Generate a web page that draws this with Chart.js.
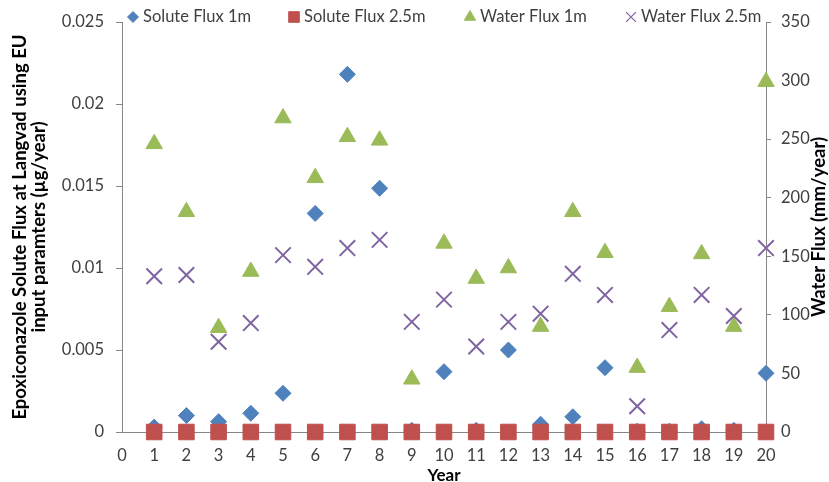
<!DOCTYPE html>
<html>
<head>
<meta charset="utf-8">
<script src="https://cdn.jsdelivr.net/npm/chart.js@4.4.1/dist/chart.umd.min.js"></script>
<style>
  html, body { margin: 0; padding: 0; background: #fff; }
  #wrap { width: 829px; height: 482px; position: relative; }
</style>
</head>
<body>
<div id="wrap"><canvas id="chart"></canvas></div>
<script>
const years = [1, 2, 3, 4, 5, 6, 7, 8, 9, 10, 11, 12, 13, 14, 15, 16, 17, 18, 19, 20];
const soluteFlux1m = [0.0003, 0.001, 0.00063, 0.00114, 0.00236, 0.01333, 0.02181, 0.01486, 0.0001, 0.00368,
  0.0001, 0.005, 0.00047, 0.00093, 0.00392, 0.00005, 0.00005, 0.0002, 0.0001, 0.00358];
const soluteFlux25m = [0, 0, 0, 0, 0, 0, 0, 0, 0, 0, 0, 0, 0, 0, 0, 0, 0, 0, 0, 0];
const waterFlux1m = [246, 188, 89, 137, 268, 217, 252, 249, 45, 161, 131, 140, 90, 188, 153, 55, 107, 152, 90, 299];
const waterFlux25m = [133, 134, 77, 93, 151, 141, 157, 164, 94, 113, 73, 94, 101, 135, 117, 22, 87, 117, 99, 157];
const seriesNames = ['Solute Flux 1m', 'Solute Flux 2.5m', 'Water Flux 1m', 'Water Flux 2.5m'];
const leftTitle = ['Epoxiconazole Solute Flux at Langvad using EU', 'input paramters (\u00b5g/year)'];
const rightTitle = 'Water Flux (mm/year)';

const toPoints = (vals) => vals.map((v, i) => ({ x: years[i], y: v }));
const textColor = '#404040';
const axisColor = '#868686';

// legend + right axis title drawn by hand so they sit where Excel put them
const extras = {
  id: 'extras',
  afterDraw(chart) {
    const ctx = chart.ctx;
    const legendX = [133, 294, 470, 631];
    const legendR = { rectRot: 5.5, rect: 7.5, triangle: 6.5, crossRot: 7 };
    ctx.save();
    ctx.font = '16.5px Lato';
    ctx.textBaseline = 'middle';
    chart.data.datasets.forEach((ds, i) => {
      ctx.fillStyle = ds.backgroundColor;
      ctx.strokeStyle = ds.borderColor;
      ctx.lineWidth = ds.pointStyle === 'crossRot' ? 1.2 : 1;
      Chart.helpers.drawPoint(ctx, {
        pointStyle: ds.pointStyle, radius: legendR[ds.pointStyle], rotation: 0, borderWidth: 1
      }, legendX[i], 17);
      ctx.fillStyle = textColor;
      ctx.textAlign = 'left';
      ctx.fillText(ds.label, legendX[i] + 10, 17);
    });
    const a = chart.chartArea;
    ctx.translate(819, (a.top + a.bottom) / 2);
    ctx.rotate(-Math.PI / 2);
    ctx.font = 'bold 18.5px Lato';
    ctx.fillStyle = '#000';
    ctx.textAlign = 'center';
    ctx.fillText(rightTitle, 0, 0);
    ctx.restore();
  }
};

new Chart(document.getElementById('chart'), {
  type: 'scatter',
  data: {
    datasets: [
      { label: seriesNames[0], data: toPoints(soluteFlux1m), yAxisID: 'y', order: 4,
        pointStyle: 'rectRot', pointRadius: 8, backgroundColor: '#4F81BD', borderColor: '#4F81BD', borderWidth: 1 },
      { label: seriesNames[1], data: toPoints(soluteFlux25m), yAxisID: 'y', order: 3,
        pointStyle: 'rect', pointRadius: 11, backgroundColor: '#C0504D', borderColor: '#C0504D', borderWidth: 1 },
      { label: seriesNames[2], data: toPoints(waterFlux1m), yAxisID: 'y2', order: 2,
        pointStyle: 'triangle', pointRadius: 9.5, backgroundColor: '#9BBB59', borderColor: '#9BBB59', borderWidth: 1 },
      { label: seriesNames[3], data: toPoints(waterFlux25m), yAxisID: 'y2', order: 1,
        pointStyle: 'crossRot', pointRadius: 11, backgroundColor: '#8064A2', borderColor: '#8064A2', borderWidth: 2 }
    ]
  },
  options: {
    responsive: true,
    maintainAspectRatio: false,
    animation: false,
    clip: false,
    layout: { padding: { top: 22 } },
    plugins: { legend: { display: false }, tooltip: { enabled: false } },
    scales: {
      x: {
        type: 'linear', min: 0, max: 20,
        afterFit: (s) => { s.height = 50; },
        grid: { display: false, drawTicks: false },
        border: { display: true, color: axisColor },
        ticks: { stepSize: 1, color: textColor, font: { family: 'Lato', size: 16.5 }, padding: 14 },
        title: { display: true, text: 'Year', color: '#000', font: { family: 'Lato', size: 17, weight: 'bold' },
          padding: { top: 0, bottom: -4 } }
      },
      y: {
        position: 'left', min: 0, max: 0.025,
        afterFit: (s) => { s.width = 122; },
        grid: { drawOnChartArea: false, drawTicks: true, tickLength: 6, color: axisColor },
        border: { display: true, color: axisColor },
        ticks: { stepSize: 0.005, color: textColor, font: { family: 'Lato', size: 16.5 }, padding: 12,
          callback: (v) => String(+v.toFixed(3)) },
        title: { display: true, text: leftTitle, color: '#000',
          font: { family: 'Lato', size: 18.5, weight: 'bold', lineHeight: 1.0 }, padding: { top: 11, bottom: 0 } }
      },
      y2: {
        position: 'right', min: 0, max: 350,
        afterFit: (s) => { s.width = 63; },
        grid: { drawOnChartArea: false, drawTicks: true, tickLength: 5, color: axisColor },
        border: { display: true, color: axisColor },
        ticks: { stepSize: 50, color: textColor, font: { family: 'Lato', size: 16.5 }, padding: 10 }
      }
    }
  },
  plugins: [extras]
});
</script>
</body>
</html>
